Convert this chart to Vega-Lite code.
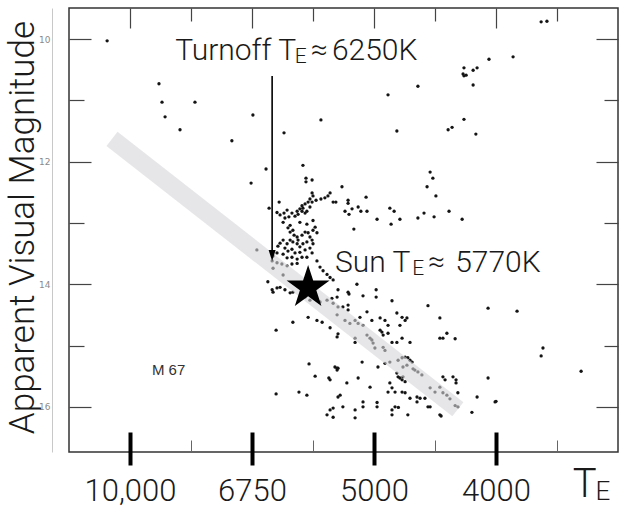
{
  "$schema": "https://vega.github.io/schema/vega-lite/v6.json",
  "width": 549,
  "height": 444,
  "autosize": "none",
  "padding": {"left": 69, "top": 8, "right": 3, "bottom": 56},
  "background": "white",
  "config": {"view": {"stroke": "#333", "strokeWidth": 1.5}, "axis": {"grid": false}},
  "resolve": {"axis": {"x": "independent", "y": "independent"}},
  "layer": [
    {
      "data": {"values": [
        {"bv":-0.075,"v":10.03},{"bv":0.095,"v":10.73},{"bv":0.105,"v":11.03},{"bv":0.213,"v":11.03},{"bv":0.115,"v":11.27},{"bv":0.164,"v":11.48},{"bv":0.403,"v":11.24},{"bv":0.334,"v":11.66},{"bv":0.505,"v":11.53},{"bv":0.626,"v":11.32},{"bv":0.446,"v":12.12},{"bv":0.397,"v":12.35},{"bv":0.567,"v":12.06},{"bv":0.577,"v":12.27},{"bv":0.577,"v":12.33},{"bv":0.597,"v":12.30},{"bv":0.456,"v":12.76},{"bv":0.489,"v":12.66},
        {"bv":1.348,"v":9.72},{"bv":1.367,"v":9.71},{"bv":1.177,"v":10.33},{"bv":1.256,"v":10.29},{"bv":1.095,"v":10.47},{"bv":1.092,"v":10.57},{"bv":1.095,"v":10.60},{"bv":1.102,"v":10.59},{"bv":1.125,"v":10.51},{"bv":1.138,"v":10.47},{"bv":1.125,"v":10.75},{"bv":0.944,"v":10.77},{"bv":0.846,"v":10.91},{"bv":0.875,"v":11.50},{"bv":1.043,"v":11.48},{"bv":1.056,"v":11.44},{"bv":1.095,"v":11.31},{"bv":1.134,"v":11.55},{"bv":0.984,"v":12.17},{"bv":0.993,"v":12.27},{"bv":0.974,"v":12.41},{"bv":1.003,"v":12.56},{"bv":1.046,"v":12.81},{"bv":0.964,"v":12.84},{"bv":0.944,"v":12.92},{"bv":0.997,"v":12.90},{"bv":1.089,"v":12.94},
        {"bv":0.695,"v":12.41},{"bv":0.666,"v":12.66},{"bv":0.675,"v":12.66},{"bv":0.715,"v":12.63},{"bv":0.715,"v":12.68},{"bv":0.774,"v":12.58},{"bv":0.705,"v":12.81},{"bv":0.718,"v":12.86},{"bv":0.728,"v":12.77},{"bv":0.748,"v":12.74},{"bv":0.757,"v":12.81},{"bv":0.777,"v":12.81},{"bv":0.852,"v":12.76},{"bv":0.866,"v":12.81},{"bv":0.810,"v":12.94},{"bv":0.885,"v":12.94},{"bv":0.734,"v":13.10},{"bv":0.856,"v":13.02},
        {"bv":0.656,"v":12.51},{"bv":0.649,"v":12.56},{"bv":0.639,"v":12.59},{"bv":0.626,"v":12.61},{"bv":0.597,"v":12.51},{"bv":0.600,"v":12.56},{"bv":0.590,"v":12.61},{"bv":0.597,"v":12.66},{"bv":0.584,"v":12.66},{"bv":0.574,"v":12.69},{"bv":0.564,"v":12.72},{"bv":0.567,"v":12.76},{"bv":0.557,"v":12.77},{"bv":0.548,"v":12.81},{"bv":0.564,"v":12.81},{"bv":0.551,"v":12.86},{"bv":0.541,"v":12.89},{"bv":0.574,"v":12.84},{"bv":0.580,"v":12.81},{"bv":0.610,"v":12.63},{"bv":0.590,"v":12.74},{"bv":0.482,"v":12.83},{"bv":0.492,"v":12.87},{"bv":0.505,"v":12.84},{"bv":0.515,"v":12.79},{"bv":0.508,"v":12.92},{"bv":0.521,"v":12.90},{"bv":0.531,"v":12.84},
        {"bv":0.502,"v":12.99},{"bv":0.525,"v":13.04},{"bv":0.557,"v":12.99},{"bv":0.580,"v":13.02},{"bv":0.600,"v":12.96},
        {"bv":0.518,"v":13.08},{"bv":0.525,"v":13.15},{"bv":0.534,"v":13.12},{"bv":0.538,"v":13.20},{"bv":0.548,"v":13.23},{"bv":0.551,"v":13.28},{"bv":0.564,"v":13.20},{"bv":0.574,"v":13.15},{"bv":0.584,"v":13.16},{"bv":0.590,"v":13.23},{"bv":0.600,"v":13.12},{"bv":0.607,"v":13.07},{"bv":0.613,"v":13.16},{"bv":0.597,"v":13.28},{"bv":0.580,"v":13.31},{"bv":0.600,"v":13.34},{"bv":0.567,"v":13.34},{"bv":0.557,"v":13.39},{"bv":0.548,"v":13.34},{"bv":0.534,"v":13.31},{"bv":0.525,"v":13.28},{"bv":0.515,"v":13.34},{"bv":0.502,"v":13.28},{"bv":0.492,"v":13.33},{"bv":0.485,"v":13.38},{"bv":0.508,"v":13.41},{"bv":0.518,"v":13.46},{"bv":0.531,"v":13.43},{"bv":0.541,"v":13.49},{"bv":0.557,"v":13.48},{"bv":0.574,"v":13.44},{"bv":0.590,"v":13.41},{"bv":0.597,"v":13.49},{"bv":0.580,"v":13.56},{"bv":0.564,"v":13.56},{"bv":0.548,"v":13.59},{"bv":0.531,"v":13.56},{"bv":0.515,"v":13.57},{"bv":0.502,"v":13.51},{"bv":0.482,"v":13.49},{"bv":0.469,"v":13.54},{"bv":0.466,"v":13.62},{"bv":0.482,"v":13.65},{"bv":0.498,"v":13.67},{"bv":0.515,"v":13.70},{"bv":0.531,"v":13.67},{"bv":0.548,"v":13.66},{"bv":0.613,"v":13.62},{"bv":0.623,"v":13.72},{"bv":0.633,"v":13.78},{"bv":0.646,"v":13.84},{"bv":0.656,"v":13.89},{"bv":0.416,"v":13.44},
        {"bv":0.466,"v":14.09},{"bv":0.469,"v":14.13},{"bv":0.482,"v":14.06},{"bv":0.492,"v":14.05},{"bv":0.508,"v":14.09},{"bv":0.525,"v":14.14},{"bv":0.534,"v":14.13},{"bv":0.564,"v":14.14},{"bv":0.574,"v":14.21},{"bv":0.590,"v":14.26},{"bv":0.623,"v":14.29},{"bv":0.646,"v":14.26},{"bv":0.662,"v":14.23},{"bv":0.679,"v":14.21},{"bv":0.682,"v":14.09},{"bv":0.666,"v":13.93},{"bv":0.744,"v":14.00},{"bv":0.807,"v":14.09},{"bv":0.715,"v":14.13},{"bv":0.718,"v":14.16},{"bv":0.764,"v":14.19},{"bv":0.807,"v":14.21},{"bv":0.859,"v":14.27},{"bv":0.977,"v":14.35},{"bv":1.174,"v":14.39},{"bv":1.269,"v":14.44},
        {"bv":0.479,"v":14.75},{"bv":0.534,"v":14.62},{"bv":0.584,"v":14.54},{"bv":0.613,"v":14.59},{"bv":0.630,"v":14.62},{"bv":0.679,"v":14.50},{"bv":0.679,"v":14.86},{"bv":0.682,"v":14.81},{"bv":0.666,"v":14.31},{"bv":0.682,"v":14.37},{"bv":0.698,"v":14.37},{"bv":0.715,"v":14.34},{"bv":0.715,"v":14.42},{"bv":0.705,"v":14.59},{"bv":0.721,"v":14.64},{"bv":0.738,"v":14.59},{"bv":0.748,"v":14.64},{"bv":0.764,"v":14.67},{"bv":0.754,"v":14.54},{"bv":0.777,"v":14.45},{"bv":0.793,"v":14.59},{"bv":0.820,"v":14.55},{"bv":0.836,"v":14.59},{"bv":0.846,"v":14.67},{"bv":0.875,"v":14.47},{"bv":0.892,"v":14.54},{"bv":0.902,"v":14.59},{"bv":0.908,"v":14.55},{"bv":0.885,"v":14.67},{"bv":1.016,"v":14.55},{"bv":0.656,"v":14.71},
        {"bv":0.738,"v":14.88},{"bv":0.738,"v":14.95},{"bv":0.777,"v":14.83},{"bv":0.787,"v":14.88},{"bv":0.820,"v":14.75},{"bv":0.826,"v":14.78},{"bv":0.830,"v":14.83},{"bv":0.846,"v":14.80},{"bv":0.859,"v":14.95},{"bv":0.875,"v":14.95},{"bv":0.892,"v":14.88},{"bv":0.918,"v":14.95},{"bv":1.016,"v":14.88},{"bv":1.026,"v":14.88},{"bv":1.039,"v":14.80},{"bv":1.066,"v":14.89},{"bv":0.793,"v":14.91},{"bv":0.797,"v":14.96},{"bv":0.803,"v":15.04},{"bv":0.830,"v":15.03},{"bv":0.836,"v":15.08},
        {"bv":0.672,"v":15.35},{"bv":0.682,"v":15.37},{"bv":0.679,"v":15.40},{"bv":0.761,"v":15.27},{"bv":0.813,"v":15.35},{"bv":0.836,"v":15.29},{"bv":0.852,"v":15.27},{"bv":0.879,"v":15.24},{"bv":0.892,"v":15.20},{"bv":0.902,"v":15.19},{"bv":0.911,"v":15.20},{"bv":0.918,"v":15.24},{"bv":0.925,"v":15.27},{"bv":0.895,"v":15.35},{"bv":0.908,"v":15.32},{"bv":0.875,"v":15.45},{"bv":0.879,"v":15.51},{"bv":0.885,"v":15.53},{"bv":0.892,"v":15.56},{"bv":0.895,"v":15.51},{"bv":0.902,"v":15.59},{"bv":0.928,"v":15.38},{"bv":0.934,"v":15.40},{"bv":0.944,"v":15.43},{"bv":0.957,"v":15.48},
        {"bv":0.656,"v":15.56},{"bv":0.711,"v":15.61},{"bv":0.748,"v":15.53},{"bv":0.787,"v":15.68},{"bv":0.852,"v":15.61},{"bv":0.859,"v":15.69},{"bv":0.869,"v":15.76},{"bv":0.846,"v":15.76},{"bv":0.892,"v":15.76},{"bv":0.902,"v":15.77},{"bv":0.918,"v":15.86},{"bv":0.941,"v":15.84},{"bv":0.951,"v":15.86},{"bv":0.967,"v":15.86},{"bv":0.977,"v":16.00},{"bv":0.984,"v":16.00},{"bv":1.026,"v":15.51},{"bv":1.033,"v":15.56},{"bv":1.059,"v":15.51},{"bv":1.069,"v":15.56},{"bv":1.069,"v":15.61},{"bv":1.075,"v":15.77},{"bv":0.984,"v":15.69},{"bv":1.000,"v":15.76},{"bv":1.016,"v":15.68},{"bv":1.026,"v":15.77},{"bv":1.039,"v":15.81},{"bv":1.049,"v":15.87},{"bv":1.066,"v":15.98},{"bv":1.075,"v":16.00},{"bv":1.138,"v":15.84},{"bv":1.121,"v":16.09},
        {"bv":0.689,"v":15.81},{"bv":0.698,"v":16.00},{"bv":0.738,"v":16.05},{"bv":0.738,"v":16.18},{"bv":0.764,"v":16.00},{"bv":0.810,"v":16.00},{"bv":0.859,"v":16.13},{"bv":0.869,"v":16.00},{"bv":0.880,"v":16.01},{"bv":0.911,"v":16.13},{"bv":1.016,"v":16.13},{"bv":0.656,"v":16.05},{"bv":0.666,"v":16.17},{"bv":0.646,"v":16.13},{"bv":0.764,"v":15.92},{"bv":0.810,"v":15.93},{"bv":0.859,"v":16.05},{"bv":0.941,"v":15.92},{"bv":1.020,"v":16.15},{"bv":1.197,"v":15.92},{"bv":1.354,"v":15.04},{"bv":1.348,"v":15.17},{"bv":1.479,"v":15.42},{"bv":1.174,"v":15.53},{"bv":1.200,"v":15.91},
        {"bv":0.587,"v":15.30},{"bv":0.607,"v":15.50},{"bv":0.652,"v":15.53},{"bv":0.679,"v":15.37},{"bv":0.479,"v":15.79},{"bv":0.554,"v":15.76},{"bv":0.580,"v":15.81},{"bv":0.666,"v":16.02},{"bv":0.682,"v":15.84},{"bv":0.452,"v":13.96},{"bv":0.502,"v":13.85},{"bv":0.469,"v":13.74}
      ]},
      "mark": {"type": "point", "filled": true, "size": 11, "color": "#141414", "opacity": 1},
      "encoding": {
        "x": {"field": "bv", "type": "quantitative", "scale": {"domain": [-0.2, 1.6], "nice": false, "zero": false},
          "axis": {"orient": "bottom", "values": [0, 0.4, 0.8, 1.2], "labelExpr": "round(datum.value*10) == 0 ? '10,000' : round(datum.value*10) == 4 ? '6750' : round(datum.value*10) == 8 ? '5000' : '4000'", "ticks": false, "domain": false, "labelPadding": 48, "labelBaseline": "alphabetic", "labelFontSize": 31, "labelFont": "Roboto", "labelFontWeight": 300, "labelColor": "#1a1a1a", "labelFlush": false, "labelOverlap": false, "title": null}},
        "y": {"field": "v", "type": "quantitative", "scale": {"domain": [9.494, 16.737], "reverse": true, "nice": false, "zero": false},
          "axis": {"orient": "left", "values": [10, 12, 14, 16], "offset": 17, "ticks": false, "domain": true, "domainColor": "#c8c8c8", "domainWidth": 1, "labelPadding": 2, "labelFontSize": 9, "labelColor": "#8a8a8a", "labelFont": "DejaVu Sans", "title": null}}
      }
    },
    {
      "data": {"values": [{"bv": -0.059, "v": 11.63}, {"bv": 1.075, "v": 16.04}]},
      "mark": {"type": "line", "strokeWidth": 18, "strokeCap": "butt", "color": "#d5d6da", "opacity": 0.6},
      "encoding": {
        "x": {"field": "bv", "type": "quantitative", "axis": {"orient": "bottom", "values": [0, 0.4, 0.8, 1.2], "offset": -20, "tickSize": 33, "tickWidth": 4, "tickColor": "#000", "labels": false, "domain": false, "title": null}},
        "y": {"field": "v", "type": "quantitative", "axis": {"orient": "left", "values": [10, 12, 14, 16], "tickSize": -22, "tickWidth": 1.2, "tickColor": "#444", "labels": false, "domain": false, "title": "Apparent Visual Magnitude", "titleX": -36, "titleY": 219, "titleAngle": -90, "titleAlign": "center", "titleBaseline": "alphabetic", "titleFont": "Roboto", "titleFontWeight": 300, "titleFontSize": 35, "titleColor": "#1a1a1a"}}
      }
    },
    {
      "data": {"values": [{"bv": 0.466, "v": 10.604, "v2": 13.475}]},
      "mark": {"type": "rule", "strokeWidth": 1.6, "color": "#000"},
      "encoding": {
        "x": {"field": "bv", "type": "quantitative", "axis": {"orient": "top", "values": [0, 0.4, 0.8, 1.2], "tickSize": -20, "tickWidth": 1.2, "tickColor": "#444", "labels": false, "domain": false, "title": null}},
        "y": {"field": "v", "type": "quantitative", "axis": {"orient": "left", "values": [11, 13, 15], "tickSize": -15, "tickWidth": 1.2, "tickColor": "#444", "labels": false, "domain": false, "title": null}},
        "y2": {"field": "v2"}
      }
    },
    {
      "data": {"values": [{"bv": 0.466, "v": 13.532}]},
      "mark": {"type": "point", "shape": "M0,1L-0.64,-1L0.64,-1Z", "filled": true, "size": 121, "color": "#000", "opacity": 1},
      "encoding": {
        "x": {"field": "bv", "type": "quantitative", "axis": {"orient": "top", "values": [0.2, 0.6, 1.0, 1.4], "tickSize": -13, "tickWidth": 1.2, "tickColor": "#444", "labels": false, "domain": false, "title": null}},
        "y": {"field": "v", "type": "quantitative", "axis": {"orient": "right", "values": [10, 12, 14, 16], "tickSize": -22, "tickWidth": 1.2, "tickColor": "#444", "labels": false, "domain": false, "title": null}}
      }
    },
    {
      "data": {"values": [{"bv": 0.584, "v": 14.055}]},
      "mark": {"type": "point", "shape": "M0,-1L0.2245,-0.309L0.951,-0.309L0.363,0.118L0.588,0.809L0,0.382L-0.588,0.809L-0.363,0.118L-0.951,-0.309L-0.2245,-0.309Z", "filled": true, "size": 2045, "color": "#000", "opacity": 1},
      "encoding": {
        "x": {"field": "bv", "type": "quantitative", "axis": {"orient": "bottom", "values": [0.2, 0.6, 1.0, 1.4], "tickSize": -12, "tickWidth": 1, "tickColor": "#666", "labels": false, "domain": false, "title": null}},
        "y": {"field": "v", "type": "quantitative", "axis": {"orient": "right", "values": [11, 13, 15], "tickSize": -14, "tickWidth": 1.2, "tickColor": "#444", "labels": false, "domain": false, "title": null}}
      }
    },
    {
      "data": {"values": [
        {"bv": 0.148, "v": 10.343, "t": "Turnoff T"},
        {"bv": 0.593, "v": 10.343, "t": "≈"},
        {"bv": 0.662, "v": 10.343, "t": "6250K"},
        {"bv": 0.672, "v": 13.801, "t": "Sun T"},
        {"bv": 0.977, "v": 13.801, "t": "≈"},
        {"bv": 1.066, "v": 13.801, "t": "5770K"}
      ]},
      "mark": {"type": "text", "align": "left", "baseline": "alphabetic", "font": "Roboto", "fontWeight": 300, "fontSize": 30, "color": "#1a1a1a"},
      "encoding": {
        "x": {"field": "bv", "type": "quantitative", "axis": null},
        "y": {"field": "v", "type": "quantitative", "axis": null},
        "text": {"field": "t"}
      }
    },
    {
      "data": {"values": [{"bv": 0.540, "v": 10.392, "t": "E"}, {"bv": 0.925, "v": 13.850, "t": "E"}]},
      "mark": {"type": "text", "align": "left", "baseline": "alphabetic", "font": "Roboto", "fontWeight": 300, "fontSize": 21, "color": "#1a1a1a"},
      "encoding": {
        "x": {"field": "bv", "type": "quantitative", "axis": null},
        "y": {"field": "v", "type": "quantitative", "axis": null},
        "text": {"field": "t"}
      }
    },
    {
      "data": {"values": [{"bv": 0.072, "v": 15.481, "t": "M 67"}]},
      "mark": {"type": "text", "align": "left", "baseline": "alphabetic", "font": "Liberation Sans", "fontSize": 15, "color": "#333"},
      "encoding": {
        "x": {"field": "bv", "type": "quantitative", "axis": null},
        "y": {"field": "v", "type": "quantitative", "axis": null},
        "text": {"field": "t"}
      }
    },
    {
      "data": {"values": [{"bv": 1.452, "v": 17.471, "t": "T"}]},
      "mark": {"type": "text", "align": "left", "baseline": "alphabetic", "font": "Roboto", "fontWeight": 300, "fontSize": 40, "color": "#1a1a1a"},
      "encoding": {
        "x": {"field": "bv", "type": "quantitative", "axis": null},
        "y": {"field": "v", "type": "quantitative", "axis": null},
        "text": {"field": "t"}
      }
    },
    {
      "data": {"values": [{"bv": 1.526, "v": 17.52, "t": "E"}]},
      "mark": {"type": "text", "align": "left", "baseline": "alphabetic", "font": "Roboto", "fontWeight": 300, "fontSize": 26, "color": "#1a1a1a"},
      "encoding": {
        "x": {"field": "bv", "type": "quantitative", "axis": null},
        "y": {"field": "v", "type": "quantitative", "axis": null},
        "text": {"field": "t"}
      }
    }
  ]
}
